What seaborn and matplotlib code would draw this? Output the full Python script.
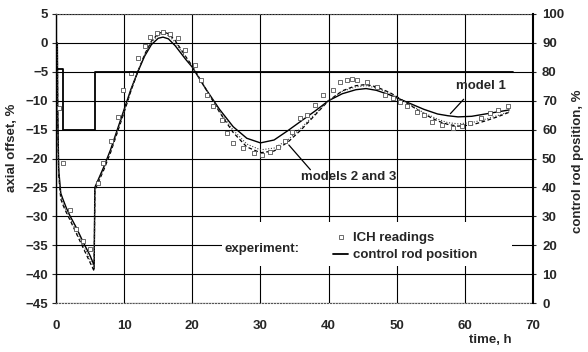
import matplotlib
matplotlib.use('Agg')
import matplotlib.pyplot as plt
import seaborn as sns
import pandas as pd
from matplotlib.patches import Rectangle
from matplotlib.lines import Line2D

# ---- data ----
model_t = [0.2, 0.25, 0.4, 0.7, 1.0, 1.5, 2, 3, 4, 5, 5.6, 5.7, 7, 8, 9, 10, 11, 12, 13, 14,
           15, 15.7, 16.5, 17.5, 19, 20, 22, 24, 26, 28, 30, 32, 34, 36, 38, 40, 42, 44, 45.5, 47,
           49, 50, 52, 54, 56, 57.5, 59, 61, 63, 65, 66.5]
model1 = [0, -12, -22, -26, -27, -28.5, -29.8, -32, -34.5, -36.8, -38.5, -25, -21.5, -18.5, -15,
          -11.5, -8, -5, -2.3, -0.3, 0.8, 1.0, 0.7, -0.5, -2.8, -4.2, -8, -11.5, -14.5, -16.5,
          -17.3, -16.8, -15.2, -13.5, -11.8, -10, -8.8, -8.1, -7.9, -8.2, -9.0, -9.5, -10.5, -11.5,
          -12.3, -12.6, -12.8, -12.7, -12.3, -11.9, -11.6]
model2 = [0, -13, -23, -27, -28, -29.3, -30.5, -33, -35.5, -38, -39.5, -25.5, -22, -19, -15.5,
          -12, -8.3, -5, -2, 0.3, 1.6, 1.9, 1.6, 0.4, -2.3, -4, -8, -12, -15.5, -18,
          -19, -18.7, -17.2, -15, -12.5, -10, -8.3, -7.4, -7.2, -7.6, -8.6, -9.3, -10.8, -12.3,
          -13.5, -14.1, -14.4, -14.2, -13.5, -12.7, -12.0]
model3 = [0, -12.5, -22.5, -26.5, -27.7, -29, -30.2, -32.6, -35, -37.5, -39, -25.3, -21.8, -18.8,
          -15.3, -11.8, -8.2, -5, -2.1, 0.1, 1.3, 1.6, 1.3, 0.1, -2.5, -4.1, -8, -11.8, -15.1,
          -17.5, -18.5, -18.2, -16.8, -14.7, -12.3, -10, -8.4, -7.6, -7.4, -7.8, -8.7, -9.4,
          -10.7, -12.1, -13.2, -13.8, -14.0, -13.8, -13.2, -12.5, -11.9]

exp_t = [0.5, 1.0, 2.0, 3.0, 4.0, 5.0, 6.2, 6.9, 8.0, 9.1, 9.9, 11.0, 12.1, 13.0, 13.8, 14.8,
         15.7, 16.8, 17.9, 19.0, 20.4, 21.3, 22.2, 23.1, 24.3, 25.1, 26.0, 27.5, 29.0, 30.2,
         31.4, 32.6, 33.6, 34.7, 35.8, 36.8, 38.0, 39.2, 40.7, 41.7, 42.7, 43.5, 44.2, 45.6,
         47.1, 48.3, 49.5, 50.5, 51.5, 53.0, 54.0, 55.2, 56.7, 58.2, 59.6, 60.8, 62.3, 63.7,
         64.9, 66.4]
exp_ich = [-11.3, -20.8, -28.9, -32.2, -34.3, -35.7, -24.2, -20.8, -17, -12.8, -8.1, -5.2, -2.6,
           -0.5, 1.0, 1.7, 1.9, 1.6, 0.8, -1.2, -3.8, -6.5, -9, -11, -13.3, -15.6, -17.3, -18.2,
           -19, -19.4, -18.9, -18, -17, -15.5, -13, -12.5, -10.7, -9, -8.1, -6.7, -6.4, -6.3,
           -6.4, -6.7, -7.6, -9.0, -9.5, -10.3, -11, -12, -12.5, -13.7, -14.2, -14.7, -14.4,
           -13.9, -13, -12.2, -11.6, -11]

rod_t = [0, 1, 1, 5.7, 5.7, 67]
rod_pos = [81, 81, 60, 60, 80, 80]

left_ticks = list(range(-45, 10, 5))
right_ticks = list(range(0, 110, 10))
x_ticks = list(range(0, 80, 10))

# ---- style ----
sns.set_style('white')
plt.rcParams['font.family'] = ['Liberation Sans', 'DejaVu Sans']
plt.rcParams['font.weight'] = 'bold'
plt.rcParams['font.size'] = 9.5

fig = plt.figure(figsize=(5.88, 3.52), dpi=100)
ax = fig.add_axes([56 / 588, 1 - 303 / 352, 477 / 588, 289 / 352])
ax2 = ax.twinx()

# models
sns.lineplot(x=model_t, y=model1, estimator=None, sort=False, color='black', lw=1.0,
             ax=ax, legend=False, zorder=3)
sns.lineplot(x=model_t, y=model2, estimator=None, sort=False, color='black', lw=0.9,
             linestyle=(0, (3, 2)), ax=ax, legend=False, zorder=3)
sns.lineplot(x=model_t, y=model3, estimator=None, sort=False, color='#444444', lw=0.8,
             linestyle=(0, (1, 1.5)), ax=ax, legend=False, zorder=3)
# experiment
sns.scatterplot(x=exp_t, y=exp_ich, marker='s', facecolor='white', edgecolor='#555555',
                s=10, linewidth=0.6, ax=ax, legend=False, zorder=4)
# control rod
sns.lineplot(x=rod_t, y=rod_pos, estimator=None, sort=False, color='black', lw=1.3,
             ax=ax2, legend=False)

ax.set_xlim(0, 70)
ax.set_ylim(-45, 5)
ax2.set_ylim(0, 100)
ax.set_xticks(x_ticks)
ax.set_yticks(left_ticks)
ax2.set_yticks(right_ticks)

ax.grid(True, color='black', lw=0.8)
ax.set_axisbelow(True)

for a in (ax, ax2):
    for s in a.spines.values():
        s.set_color('black')
ax.spines['top'].set_linestyle(':')
ax.spines['bottom'].set_linestyle(':')
ax.spines['top'].set_color('#555555')
ax.spines['bottom'].set_color('#555555')
ax.spines['right'].set_visible(False)
ax.spines['left'].set_linewidth(1.0)
for k in ('top', 'bottom', 'left'):
    ax2.spines[k].set_visible(False)
ax2.spines['right'].set_linewidth(1.5)

ax.tick_params(axis='y', direction='out', length=3, width=0.8, pad=2.5, left=True, labelsize=9.5)
ax.tick_params(axis='x', length=0, pad=12, labelsize=9.5)
ax2.tick_params(axis='y', direction='out', length=2.5, width=0.8, pad=4, right=True, labelsize=9.5)

ax.set_xlabel('')
ax.set_ylabel('')
ax2.set_ylabel('')

fig.text(12 / 588, 1 - 148 / 352, 'axial offset, %', rotation=90, ha='center', va='center')
fig.text(578 / 588, 1 - 161 / 352, 'control rod position, %', rotation=90, ha='center', va='center')
fig.text(490 / 588, 1 - 340 / 352, 'time, h', ha='center', va='center')

# legend area
ax.add_patch(Rectangle((0.348, 0.128), 0.608, 0.152, transform=ax.transAxes,
                       facecolor='white', edgecolor='none', zorder=1))
ax.text(0.354, 0.187, 'experiment:', transform=ax.transAxes, ha='left', va='center', zorder=5)
handles = [Line2D([], [], marker='s', ls='none', mfc='white', mec='#555555', ms=3.2, mew=0.6),
           Line2D([], [], color='black', lw=1.3)]
ax2.legend(handles, ['ICH readings', 'control rod position'], loc='upper left',
           bbox_to_anchor=(0.581, 0.245), frameon=False, borderpad=0, borderaxespad=0,
           handlelength=1.15, handletextpad=0.35, labelspacing=0.35, fontsize=9.5)

# annotations
ax.text(62.3, -7.5, 'model 1', ha='center', va='center')
ax.annotate('', xy=(57.6, -12.6), xytext=(60.1, -9.4),
            arrowprops=dict(arrowstyle='-', color='black', lw=0.9))
ax.text(43.0, -23.2, 'models 2 and 3', ha='center', va='center')
ax.annotate('', xy=(33.9, -17.3), xytext=(37.6, -22.3),
            arrowprops=dict(arrowstyle='-', color='black', lw=0.9))

fig.savefig('out.png', dpi=100)
